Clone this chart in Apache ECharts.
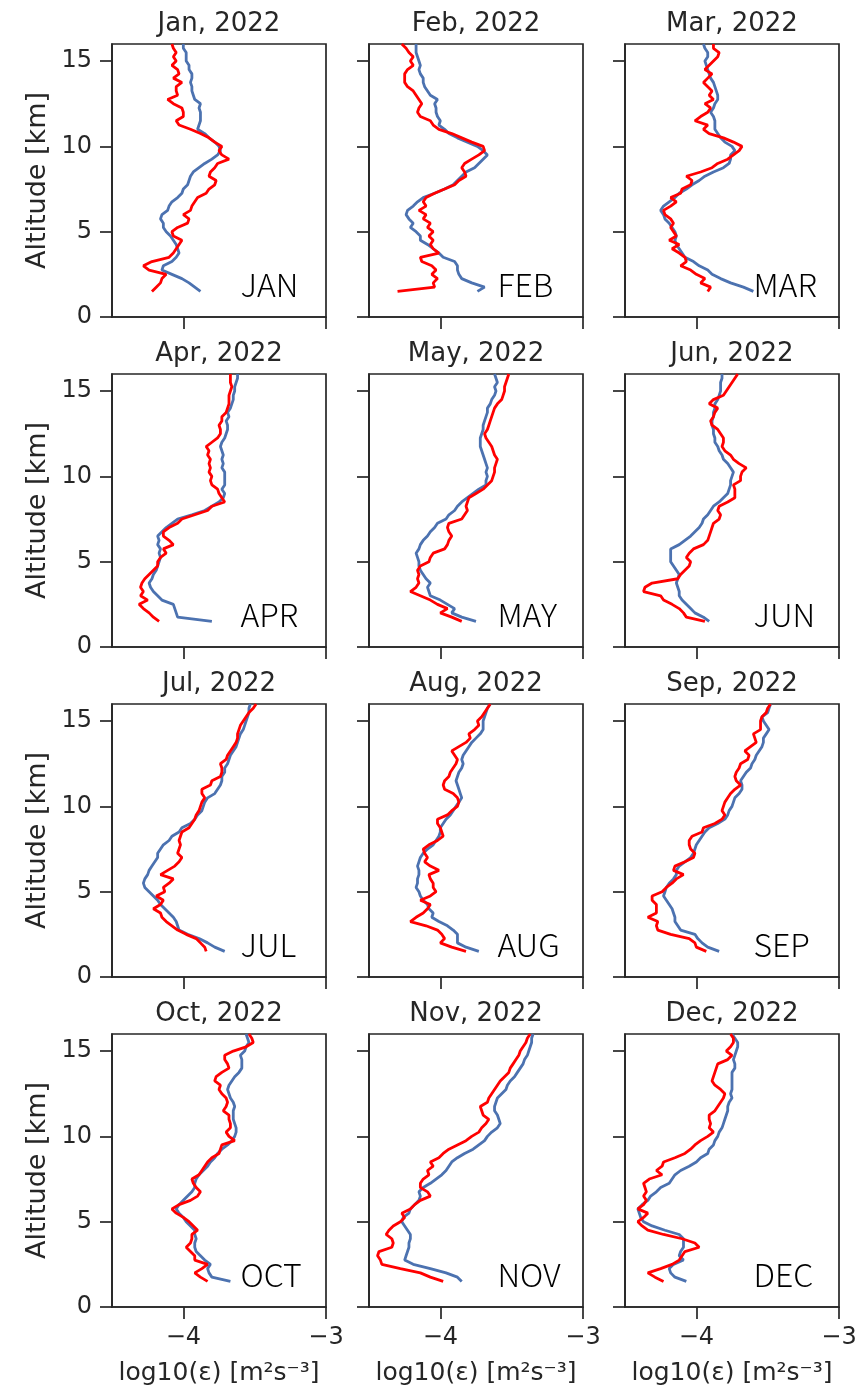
<!DOCTYPE html>
<html>
<head>
<meta charset="utf-8">
<script src="https://cdn.jsdelivr.net/npm/echarts@6/dist/echarts.min.js"></script>
<style>
  html, body { margin: 0; padding: 0; background: #ffffff; }
  #chart { width: 866px; height: 1393px; }
</style>
</head>
<body>
<div id="chart"></div>
<script>
// Altitude levels of every profile [km]
const ALTITUDE = [1.5, 1.75,
  2, 2.25, 2.5, 2.75, 3, 3.25, 3.5, 3.75, 4, 4.25, 4.5, 4.75,
  5, 5.25, 5.5, 5.75, 6, 6.25, 6.5, 6.75, 7, 7.25, 7.5, 7.75,
  8, 8.25, 8.5, 8.75, 9, 9.25, 9.5, 9.75, 10, 10.25, 10.5, 10.75,
  11, 11.25, 11.5, 11.75, 12, 12.25, 12.5, 12.75, 13, 13.25, 13.5, 13.75,
  14, 14.25, 14.5, 14.75, 15, 15.25, 15.5, 15.75, 16];

// Panel titles and the month tag printed inside each panel
const TITLES = ['Jan, 2022', 'Feb, 2022', 'Mar, 2022', 'Apr, 2022', 'May, 2022', 'Jun, 2022',
  'Jul, 2022', 'Aug, 2022', 'Sep, 2022', 'Oct, 2022', 'Nov, 2022', 'Dec, 2022'];
const MONTH_TAGS = ['JAN', 'FEB', 'MAR', 'APR', 'MAY', 'JUN', 'JUL', 'AUG', 'SEP', 'OCT', 'NOV', 'DEC'];

// Tick values
const X_TICKS = [-4, -3];
const Y_TICKS = [0, 5, 10, 15];

// log10(epsilon) profiles, bottom (1.5 km) to top (16 km)
const blueJan = [-3.88, -3.92,
  -3.96, -4.01, -4.08, -4.15, -4.14, -4.08, -4.05, -4.03, -4.04, -4.05, -4.07, -4.09,
  -4.12, -4.14, -4.14, -4.16, -4.15, -4.11, -4.10, -4.08, -4.04, -4.01, -4.00, -3.97,
  -3.96, -3.95, -3.93, -3.89, -3.85, -3.80, -3.76, -3.74, -3.75, -3.78, -3.82, -3.85,
  -3.90, -3.89, -3.88, -3.88, -3.88, -3.89, -3.88, -3.92, -3.93, -3.94, -3.94, -3.95,
  -3.94, -3.94, -3.96, -3.96, -3.98, -3.98, -3.98, -4.00, -4.00];
const redJan = [-4.22, -4.19,
  -4.16, -4.15, -4.12, -4.24, -4.28, -4.22, -4.10, -4.07, -4.05, -4.03, -4.01, -4.07,
  -4.08, -4.04, -3.97, -3.96, -4.00, -3.95, -3.94, -3.92, -3.90, -3.84, -3.82, -3.78,
  -3.77, -3.82, -3.81, -3.78, -3.76, -3.68, -3.73, -3.75, -3.73, -3.78, -3.82, -3.88,
  -3.95, -4.03, -4.05, -4.00, -4.00, -4.01, -4.07, -4.11, -4.04, -4.05, -4.05, -4.01,
  -4.07, -4.03, -4.04, -4.08, -4.05, -4.07, -4.05, -4.07, -4.08];

const blueFeb = [-3.74, -3.69,
  -3.78, -3.85, -3.87, -3.88, -3.88, -3.90, -3.98, -4.01, -4.05, -4.09, -4.14, -4.14,
  -4.17, -4.21, -4.19, -4.22, -4.24, -4.23, -4.19, -4.16, -4.12, -4.04, -3.97, -3.91,
  -3.88, -3.85, -3.82, -3.76, -3.73, -3.70, -3.67, -3.70, -3.74, -3.81, -3.88, -3.94,
  -3.97, -4.01, -4.00, -4.02, -4.03, -4.03, -4.04, -4.02, -4.07, -4.09, -4.11, -4.12,
  -4.12, -4.14, -4.15, -4.14, -4.15, -4.16, -4.17, -4.17, -4.17];
const redFeb = [-4.30, -4.04,
  -4.05, -4.02, -4.06, -4.03, -4.06, -4.13, -4.14, -4.01, -4.05, -4.07, -4.05, -4.08,
  -4.05, -4.09, -4.07, -4.12, -4.10, -4.15, -4.10, -4.12, -4.10, -4.04, -3.97, -3.90,
  -3.87, -3.82, -3.83, -3.85, -3.83, -3.78, -3.73, -3.69, -3.70, -3.78, -3.85, -3.92,
  -4.01, -4.05, -4.07, -4.14, -4.16, -4.15, -4.13, -4.15, -4.17, -4.19, -4.23, -4.25,
  -4.25, -4.25, -4.23, -4.19, -4.21, -4.19, -4.22, -4.24, -4.27];

const blueMar = [-3.60, -3.67,
  -3.76, -3.83, -3.89, -3.92, -3.98, -4.02, -4.08, -4.10, -4.12, -4.14, -4.15, -4.14,
  -4.15, -4.17, -4.19, -4.22, -4.23, -4.25, -4.23, -4.19, -4.15, -4.12, -4.07, -4.03,
  -3.98, -3.94, -3.88, -3.81, -3.77, -3.76, -3.76, -3.73, -3.75, -3.80, -3.83, -3.85,
  -3.87, -3.87, -3.87, -3.88, -3.90, -3.88, -3.87, -3.85, -3.85, -3.86, -3.87, -3.88,
  -3.90, -3.91, -3.92, -3.93, -3.94, -3.92, -3.92, -3.94, -3.95];
const redMar = [-3.92, -3.90,
  -3.97, -3.94, -4.00, -4.04, -4.11, -4.07, -4.08, -4.12, -4.17, -4.12, -4.19, -4.14,
  -4.16, -4.18, -4.16, -4.18, -4.22, -4.23, -4.18, -4.14, -4.18, -4.11, -4.10, -4.04,
  -4.03, -4.07, -3.97, -3.89, -3.85, -3.78, -3.74, -3.70, -3.68, -3.74, -3.81, -3.91,
  -3.95, -3.92, -4.01, -3.97, -3.92, -3.90, -3.94, -3.88, -3.91, -3.89, -3.92, -3.95,
  -3.92, -3.89, -3.94, -3.91, -3.88, -3.85, -3.84, -3.88, -3.88];

const blueApr = [-3.80, -4.04,
  -4.05, -4.06, -4.07, -4.15, -4.18, -4.21, -4.23, -4.24, -4.22, -4.21, -4.19, -4.18,
  -4.17, -4.16, -4.17, -4.16, -4.18, -4.17, -4.18, -4.15, -4.12, -4.08, -4.04, -3.94,
  -3.85, -3.80, -3.75, -3.72, -3.71, -3.73, -3.71, -3.71, -3.71, -3.71, -3.73, -3.72,
  -3.73, -3.72, -3.73, -3.74, -3.73, -3.71, -3.70, -3.69, -3.69, -3.70, -3.68, -3.69,
  -3.67, -3.66, -3.65, -3.65, -3.64, -3.64, -3.63, -3.62, -3.62];
const redApr = [-4.17, -4.21,
  -4.24, -4.28, -4.31, -4.25, -4.30, -4.28, -4.30, -4.29, -4.27, -4.24, -4.21, -4.18,
  -4.18, -4.16, -4.12, -4.14, -4.07, -4.10, -4.14, -4.14, -4.10, -4.04, -4.01, -3.92,
  -3.83, -3.80, -3.71, -3.73, -3.75, -3.76, -3.80, -3.81, -3.80, -3.82, -3.81, -3.82,
  -3.81, -3.83, -3.82, -3.84, -3.80, -3.76, -3.74, -3.74, -3.75, -3.73, -3.73, -3.70,
  -3.69, -3.68, -3.68, -3.68, -3.67, -3.66, -3.67, -3.67, -3.67];

const blueMay = [-3.75, -3.85,
  -3.92, -3.90, -3.95, -4.00, -4.07, -4.08, -4.09, -4.07, -4.10, -4.12, -4.14, -4.15,
  -4.15, -4.16, -4.17, -4.15, -4.14, -4.12, -4.09, -4.07, -4.04, -4.02, -3.96, -3.94,
  -3.90, -3.88, -3.85, -3.81, -3.77, -3.73, -3.68, -3.68, -3.67, -3.68, -3.67, -3.68,
  -3.69, -3.70, -3.71, -3.72, -3.72, -3.72, -3.71, -3.70, -3.70, -3.69, -3.68, -3.67,
  -3.67, -3.65, -3.64, -3.62, -3.61, -3.62, -3.60, -3.61, -3.62];
const redMay = [-3.85, -3.92,
  -4.00, -3.95, -4.02, -4.07, -4.14, -4.21, -4.17, -4.15, -4.16, -4.15, -4.16, -4.14,
  -4.08, -4.07, -4.05, -3.97, -3.95, -3.94, -3.92, -3.94, -3.95, -3.94, -3.85, -3.83,
  -3.81, -3.82, -3.81, -3.80, -3.75, -3.70, -3.67, -3.64, -3.63, -3.62, -3.62, -3.61,
  -3.60, -3.62, -3.63, -3.64, -3.66, -3.68, -3.69, -3.67, -3.66, -3.65, -3.64, -3.63,
  -3.62, -3.60, -3.57, -3.56, -3.55, -3.55, -3.54, -3.53, -3.52];

const blueJun = [-3.91, -3.95,
  -4.01, -4.04, -4.07, -4.10, -4.12, -4.12, -4.13, -4.14, -4.13, -4.12, -4.14, -4.16,
  -4.18, -4.18, -4.18, -4.18, -4.12, -4.08, -4.04, -4.01, -3.98, -3.96, -3.95, -3.92,
  -3.90, -3.88, -3.84, -3.81, -3.78, -3.77, -3.76, -3.76, -3.75, -3.74, -3.76, -3.78,
  -3.81, -3.82, -3.84, -3.85, -3.87, -3.87, -3.88, -3.88, -3.89, -3.89, -3.88, -3.88,
  -3.87, -3.87, -3.85, -3.84, -3.83, -3.83, -3.83, -3.82, -3.82];
const redJun = [-3.94, -4.07,
  -4.09, -4.12, -4.17, -4.23, -4.25, -4.37, -4.36, -4.31, -4.13, -4.11, -4.08, -4.05,
  -4.04, -4.07, -4.05, -4.02, -3.95, -3.92, -3.91, -3.90, -3.89, -3.88, -3.84, -3.83,
  -3.85, -3.84, -3.78, -3.73, -3.73, -3.73, -3.74, -3.69, -3.69, -3.68, -3.65, -3.70,
  -3.74, -3.76, -3.80, -3.82, -3.81, -3.81, -3.83, -3.85, -3.89, -3.90, -3.88, -3.87,
  -3.85, -3.91, -3.88, -3.81, -3.79, -3.77, -3.75, -3.73, -3.71];

const blueJul = [-3.71, -3.78,
  -3.83, -3.89, -3.97, -4.03, -4.04, -4.05, -4.07, -4.10, -4.13, -4.16, -4.18, -4.21,
  -4.24, -4.27, -4.28, -4.27, -4.25, -4.24, -4.22, -4.20, -4.18, -4.18, -4.16, -4.14,
  -4.10, -4.08, -4.03, -4.01, -3.95, -3.92, -3.90, -3.87, -3.86, -3.85, -3.83, -3.78,
  -3.76, -3.74, -3.73, -3.73, -3.71, -3.71, -3.69, -3.68, -3.67, -3.65, -3.63, -3.62,
  -3.61, -3.60, -3.58, -3.57, -3.56, -3.55, -3.54, -3.54, -3.53];
const redJul = [-3.84, -3.85,
  -3.88, -3.91, -3.98, -4.04, -4.08, -4.12, -4.15, -4.16, -4.21, -4.16, -4.14, -4.19,
  -4.13, -4.14, -4.10, -4.07, -4.16, -4.11, -4.06, -4.03, -4.01, -4.04, -4.03, -4.02,
  -4.03, -4.02, -4.01, -3.96, -3.94, -3.92, -3.91, -3.89, -3.88, -3.87, -3.85, -3.87,
  -3.87, -3.81, -3.80, -3.74, -3.73, -3.73, -3.74, -3.70, -3.69, -3.67, -3.65, -3.63,
  -3.62, -3.62, -3.61, -3.60, -3.58, -3.56, -3.54, -3.51, -3.49];

const blueAug = [-3.73, -3.82,
  -3.88, -3.88, -3.88, -3.91, -3.95, -4.01, -4.06, -4.05, -4.08, -4.09, -4.12, -4.14,
  -4.15, -4.17, -4.16, -4.16, -4.15, -4.15, -4.16, -4.15, -4.14, -4.12, -4.09, -4.05,
  -4.03, -4.01, -4.00, -4.00, -3.98, -3.96, -3.93, -3.91, -3.89, -3.87, -3.85, -3.86,
  -3.87, -3.88, -3.89, -3.88, -3.87, -3.85, -3.84, -3.85, -3.84, -3.82, -3.80, -3.78,
  -3.75, -3.72, -3.70, -3.70, -3.70, -3.69, -3.68, -3.67, -3.65];
const redAug = [-3.82, -3.92,
  -4.00, -3.97, -3.99, -4.02, -4.10, -4.21, -4.17, -4.12, -4.09, -4.07, -4.14, -4.07,
  -4.03, -4.05, -4.05, -4.07, -4.08, -4.01, -4.07, -4.11, -4.09, -4.11, -4.12, -4.08,
  -4.02, -3.98, -3.99, -4.00, -4.02, -4.02, -3.95, -3.92, -3.88, -3.87, -3.88, -3.91,
  -3.97, -3.98, -3.97, -3.94, -3.93, -3.91, -3.89, -3.88, -3.90, -3.92, -3.87, -3.82,
  -3.79, -3.80, -3.76, -3.73, -3.74, -3.71, -3.69, -3.67, -3.65];

const blueSep = [-3.84, -3.92,
  -3.96, -3.99, -4.01, -4.11, -4.13, -4.15, -4.15, -4.16, -4.17, -4.19, -4.21, -4.23,
  -4.22, -4.21, -4.19, -4.16, -4.14, -4.14, -4.12, -4.08, -4.04, -4.02, -4.01, -4.00,
  -3.98, -3.96, -3.94, -3.91, -3.85, -3.80, -3.78, -3.77, -3.75, -3.74, -3.73, -3.70,
  -3.68, -3.68, -3.69, -3.67, -3.65, -3.62, -3.61, -3.59, -3.58, -3.56, -3.54, -3.53,
  -3.53, -3.51, -3.49, -3.51, -3.53, -3.54, -3.50, -3.49, -3.48];
const redSep = [-3.93, -4.00,
  -4.01, -4.05, -4.18, -4.27, -4.28, -4.27, -4.34, -4.28, -4.28, -4.28, -4.31, -4.31,
  -4.24, -4.21, -4.17, -4.14, -4.09, -4.16, -4.15, -4.08, -4.02, -4.01, -4.04, -4.05,
  -4.05, -4.03, -3.96, -3.95, -3.87, -3.82, -3.80, -3.82, -3.81, -3.80, -3.78, -3.76,
  -3.73, -3.69, -3.72, -3.73, -3.72, -3.70, -3.69, -3.64, -3.63, -3.66, -3.62, -3.58,
  -3.59, -3.60, -3.55, -3.55, -3.55, -3.54, -3.51, -3.50, -3.48];

const blueOct = [-3.67, -3.80,
  -3.82, -3.83, -3.81, -3.85, -3.88, -3.91, -3.92, -3.92, -3.91, -3.92, -3.92, -3.95,
  -3.98, -4.00, -4.03, -4.05, -4.03, -4.00, -3.97, -3.94, -3.92, -3.92, -3.91, -3.89,
  -3.86, -3.83, -3.81, -3.78, -3.76, -3.73, -3.69, -3.66, -3.64, -3.63, -3.63, -3.64,
  -3.65, -3.65, -3.65, -3.64, -3.65, -3.67, -3.68, -3.69, -3.68, -3.66, -3.64, -3.61,
  -3.59, -3.59, -3.59, -3.60, -3.57, -3.56, -3.54, -3.55, -3.56];
const redOct = [-3.83, -3.88,
  -3.92, -3.87, -3.83, -3.92, -3.92, -3.95, -3.98, -3.95, -3.94, -3.94, -3.90, -3.93,
  -3.96, -4.00, -4.05, -4.08, -4.03, -3.95, -3.90, -3.88, -3.91, -3.93, -3.94, -3.89,
  -3.87, -3.85, -3.83, -3.80, -3.75, -3.74, -3.73, -3.64, -3.68, -3.70, -3.67, -3.67,
  -3.68, -3.68, -3.72, -3.70, -3.69, -3.70, -3.73, -3.75, -3.74, -3.78, -3.77, -3.73,
  -3.68, -3.69, -3.71, -3.71, -3.65, -3.56, -3.51, -3.52, -3.54];

const blueNov = [-3.85, -3.88,
  -3.96, -4.07, -4.19, -4.25, -4.24, -4.23, -4.22, -4.22, -4.21, -4.21, -4.23, -4.25,
  -4.27, -4.26, -4.22, -4.21, -4.18, -4.15, -4.14, -4.15, -4.12, -4.07, -4.03, -3.99,
  -3.96, -3.94, -3.92, -3.88, -3.83, -3.77, -3.73, -3.69, -3.67, -3.64, -3.60, -3.58,
  -3.59, -3.60, -3.62, -3.62, -3.61, -3.60, -3.57, -3.54, -3.53, -3.51, -3.48, -3.46,
  -3.44, -3.42, -3.41, -3.39, -3.38, -3.37, -3.36, -3.36, -3.35];
const redNov = [-3.98, -4.07,
  -4.14, -4.28, -4.41, -4.42, -4.44, -4.43, -4.34, -4.33, -4.34, -4.38, -4.36, -4.33,
  -4.28, -4.25, -4.27, -4.21, -4.18, -4.14, -4.07, -4.09, -4.14, -4.14, -4.12, -4.08,
  -4.09, -4.05, -4.07, -4.01, -3.98, -3.94, -3.88, -3.82, -3.78, -3.73, -3.71, -3.68,
  -3.66, -3.70, -3.71, -3.72, -3.67, -3.66, -3.64, -3.62, -3.60, -3.58, -3.55, -3.52,
  -3.51, -3.49, -3.47, -3.45, -3.44, -3.42, -3.40, -3.39, -3.37];

const blueDec = [-4.07, -4.15,
  -4.18, -4.19, -4.16, -4.09, -4.12, -4.11, -4.09, -4.09, -4.09, -4.12, -4.22, -4.31,
  -4.37, -4.39, -4.40, -4.41, -4.38, -4.34, -4.32, -4.28, -4.25, -4.19, -4.17, -4.15,
  -4.11, -4.05, -4.00, -3.97, -3.92, -3.91, -3.88, -3.87, -3.85, -3.84, -3.82, -3.81,
  -3.80, -3.79, -3.78, -3.78, -3.77, -3.75, -3.76, -3.75, -3.75, -3.75, -3.75, -3.75,
  -3.73, -3.73, -3.74, -3.73, -3.72, -3.71, -3.71, -3.73, -3.75];
const redDec = [-4.23, -4.29,
  -4.34, -4.25, -4.17, -4.12, -4.10, -4.08, -3.98, -4.01, -4.10, -4.23, -4.34, -4.38,
  -4.41, -4.37, -4.34, -4.41, -4.37, -4.35, -4.37, -4.35, -4.36, -4.37, -4.33, -4.24,
  -4.28, -4.24, -4.23, -4.15, -4.08, -4.04, -4.01, -3.97, -3.92, -3.88, -3.91, -3.90,
  -3.91, -3.91, -3.87, -3.85, -3.83, -3.81, -3.80, -3.83, -3.87, -3.89, -3.88, -3.87,
  -3.86, -3.85, -3.78, -3.75, -3.79, -3.76, -3.74, -3.74, -3.76];

const BLUE_PROFILES = [blueJan, blueFeb, blueMar, blueApr, blueMay, blueJun,
  blueJul, blueAug, blueSep, blueOct, blueNov, blueDec];
const RED_PROFILES = [redJan, redFeb, redMar, redApr, redMay, redJun,
  redJul, redAug, redSep, redOct, redNov, redDec];

// ---- layout & style ----
const COL_LEFT = [112, 369, 625];
const ROW_TOP = [44, 374, 704, 1034];
const PANEL_W = 214;
const PANEL_H = 273;
const INK = '#262626';
const BLUE = '#4c72b0';
const RED = '#ff0000';
const FONT = 'DejaVu Sans';
const TAG_ANCHOR = [-3.6, 1.9];   // left / middle of the month tag, in data units

const chart = echarts.init(document.getElementById('chart'), null, { renderer: 'canvas' });

const grids = [], xAxes = [], yAxes = [], titles = [], series = [];
const minus = v => String(v).replace('-', '\u2212');

for (let i = 0; i < 12; i++) {
  const r = Math.floor(i / 3), c = i % 3;
  const bottomRow = r === 3, leftCol = c === 0;
  grids.push({
    left: COL_LEFT[c], top: ROW_TOP[r], width: PANEL_W, height: PANEL_H,
    show: true, borderColor: INK, borderWidth: 1.7, backgroundColor: 'transparent',
    containLabel: false
  });
  xAxes.push({
    gridIndex: i, type: 'value', min: -4.5, max: -3,
    axisLine: { show: true, onZero: false, lineStyle: { color: INK, width: 1.7 } },
    axisTick: { show: true, customValues: X_TICKS, length: 12, lineStyle: { color: INK, width: 1.7 } },
    axisLabel: { show: bottomRow, customValues: X_TICKS, formatter: minus, color: INK,
      fontFamily: FONT, fontSize: 24, margin: 19 },
    splitLine: { show: false },
    name: bottomRow ? 'log10(\u03b5) [m\u00b2s\u207b\u00b3]' : '',
    nameLocation: 'middle', nameGap: 54,
    nameTextStyle: { color: INK, fontFamily: FONT, fontSize: 25 }
  });
  yAxes.push({
    gridIndex: i, type: 'value', min: 0, max: 16,
    axisLine: { show: true, onZero: false, lineStyle: { color: INK, width: 1.7 } },
    axisTick: { show: true, customValues: Y_TICKS, length: 12, lineStyle: { color: INK, width: 1.7 } },
    axisLabel: { show: leftCol, customValues: Y_TICKS, color: INK,
      fontFamily: FONT, fontSize: 24, margin: 20 },
    splitLine: { show: false },
    name: leftCol ? 'Altitude [km]' : '',
    nameLocation: 'middle', nameGap: 61,
    nameTextStyle: { color: INK, fontFamily: FONT, fontSize: 27 }
  });
  titles.push({
    text: TITLES[i], left: COL_LEFT[c] + PANEL_W / 2, top: ROW_TOP[r] - 33,
    textAlign: 'center', padding: 0,
    textStyle: { color: INK, fontFamily: FONT, fontSize: 26, fontWeight: 'normal' }
  });
  const profile = (vals) => ALTITUDE.map((a, k) => [vals[k], a]);
  series.push({
    type: 'line', xAxisIndex: i, yAxisIndex: i, data: profile(BLUE_PROFILES[i]),
    showSymbol: false, symbol: 'none', silent: true, z: 2,
    lineStyle: { color: BLUE, width: 2.8 }, itemStyle: { color: BLUE }
  });
  series.push({
    type: 'line', xAxisIndex: i, yAxisIndex: i, data: profile(RED_PROFILES[i]),
    showSymbol: false, symbol: 'none', silent: true, z: 3,
    lineStyle: { color: RED, width: 2.8 }, itemStyle: { color: RED }
  });
}

chart.setOption({
  animation: false,
  backgroundColor: '#ffffff',
  title: titles,
  grid: grids,
  xAxis: xAxes,
  yAxis: yAxes,
  series: series
});

// Month tags, anchored to each panel's own axes
const tags = MONTH_TAGS.map((tag, i) => {
  const p = chart.convertToPixel({ xAxisIndex: i, yAxisIndex: i }, TAG_ANCHOR);
  return {
    type: 'text', x: p[0], y: p[1], z: 10, silent: true,
    style: {
      text: tag, fill: '#000000', font: '300 32px "Noto Sans CJK JP"',
      align: 'left', verticalAlign: 'middle', textAlign: 'left', textVerticalAlign: 'middle'
    }
  };
});
chart.setOption({ graphic: tags });
</script>
</body>
</html>
